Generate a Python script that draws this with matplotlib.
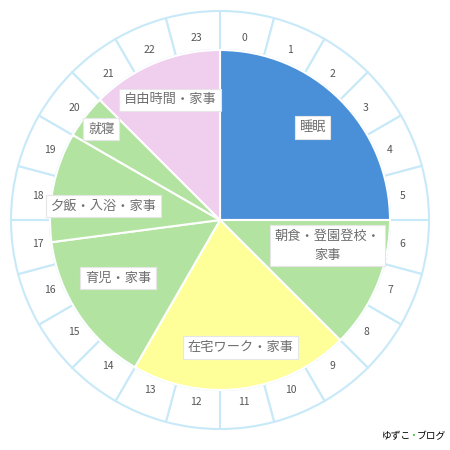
import matplotlib
matplotlib.use("Agg")
import matplotlib.pyplot as plt
import numpy as np

plt.rcParams['font.family'] = ['Noto Sans CJK JP', 'DejaVu Sans']

# 24時間の予定
activities = ["睡眠", "朝食・登園登校・\n家事", "在宅ワーク・家事", "育児・家事",
              "夕飯・入浴・家事", "就寝", "自由時間・家事"]
hours = [6, 3, 5, 3.5, 2.5, 1, 3]
colors = ["#4A90D9", "#B3E3A1", "#FFFF99", "#B3E3A1", "#B3E3A1", "#B3E3A1", "#F0CEEE"]
clock_labels = [str(h) for h in range(24)]

# label placement per slice: distance (fraction of radius), angle shift (deg)
label_dist = [0.77, 0.65, 0.76, 0.69, 0.69, 0.88, 0.765]
label_shift = [0, 9, 1.5, -4, 4.5, 0, 0]

fig = plt.figure(figsize=(4.5, 4.5), dpi=100)
ax = fig.add_axes([0, 0, 1, 1])

cx, cy = 220, 230
R_pie = 170
R_out = 209

# outer clock ring
ring, ring_txt = ax.pie([1] * 24, labels=clock_labels, startangle=90, counterclock=False,
                        center=(cx, cy), radius=R_out, labeldistance=184 / R_out,
                        wedgeprops=dict(width=R_out - R_pie, facecolor='white',
                                        edgecolor='#C8E9F8', linewidth=1.5),
                        textprops=dict(fontsize=7.5, color='#555555'))
for t in ring_txt:
    t.set_ha('center')
    t.set_va('center')

# activities
wedges, _ = ax.pie(hours, colors=colors, startangle=90, counterclock=False,
                   center=(cx, cy), radius=R_pie,
                   wedgeprops=dict(edgecolor='white', linewidth=1.5))

for w, name, d, s in zip(wedges, activities, label_dist, label_shift):
    mid = np.deg2rad((w.theta1 + w.theta2) / 2 + s)
    x = cx + d * R_pie * np.cos(mid)
    y = cy + d * R_pie * np.sin(mid)
    ax.text(x, y, name, ha='center', va='center', fontsize=9.5, color='#6E6E6E',
            linespacing=1.6, multialignment='center',
            bbox=dict(boxstyle='square,pad=0.35', facecolor='white',
                      edgecolor='#E6E6E6', linewidth=0.8))

ax.set_xlim(0, 450)
ax.set_ylim(0, 450)
ax.set_aspect('equal')
ax.axis('off')

# watermark
yb = 1 - 436 / 450
fig.text(411 / 450, yb, "ゆずこ", ha='right', va='center', fontsize=7, color='black')
fig.text(414 / 450, yb, "•", ha='center', va='center', fontsize=5, color='#3DBE3D',
         family='DejaVu Sans')
fig.text(417 / 450, yb, "ブログ", ha='left', va='center', fontsize=7, color='black')

fig.savefig("out.png", dpi=100)
